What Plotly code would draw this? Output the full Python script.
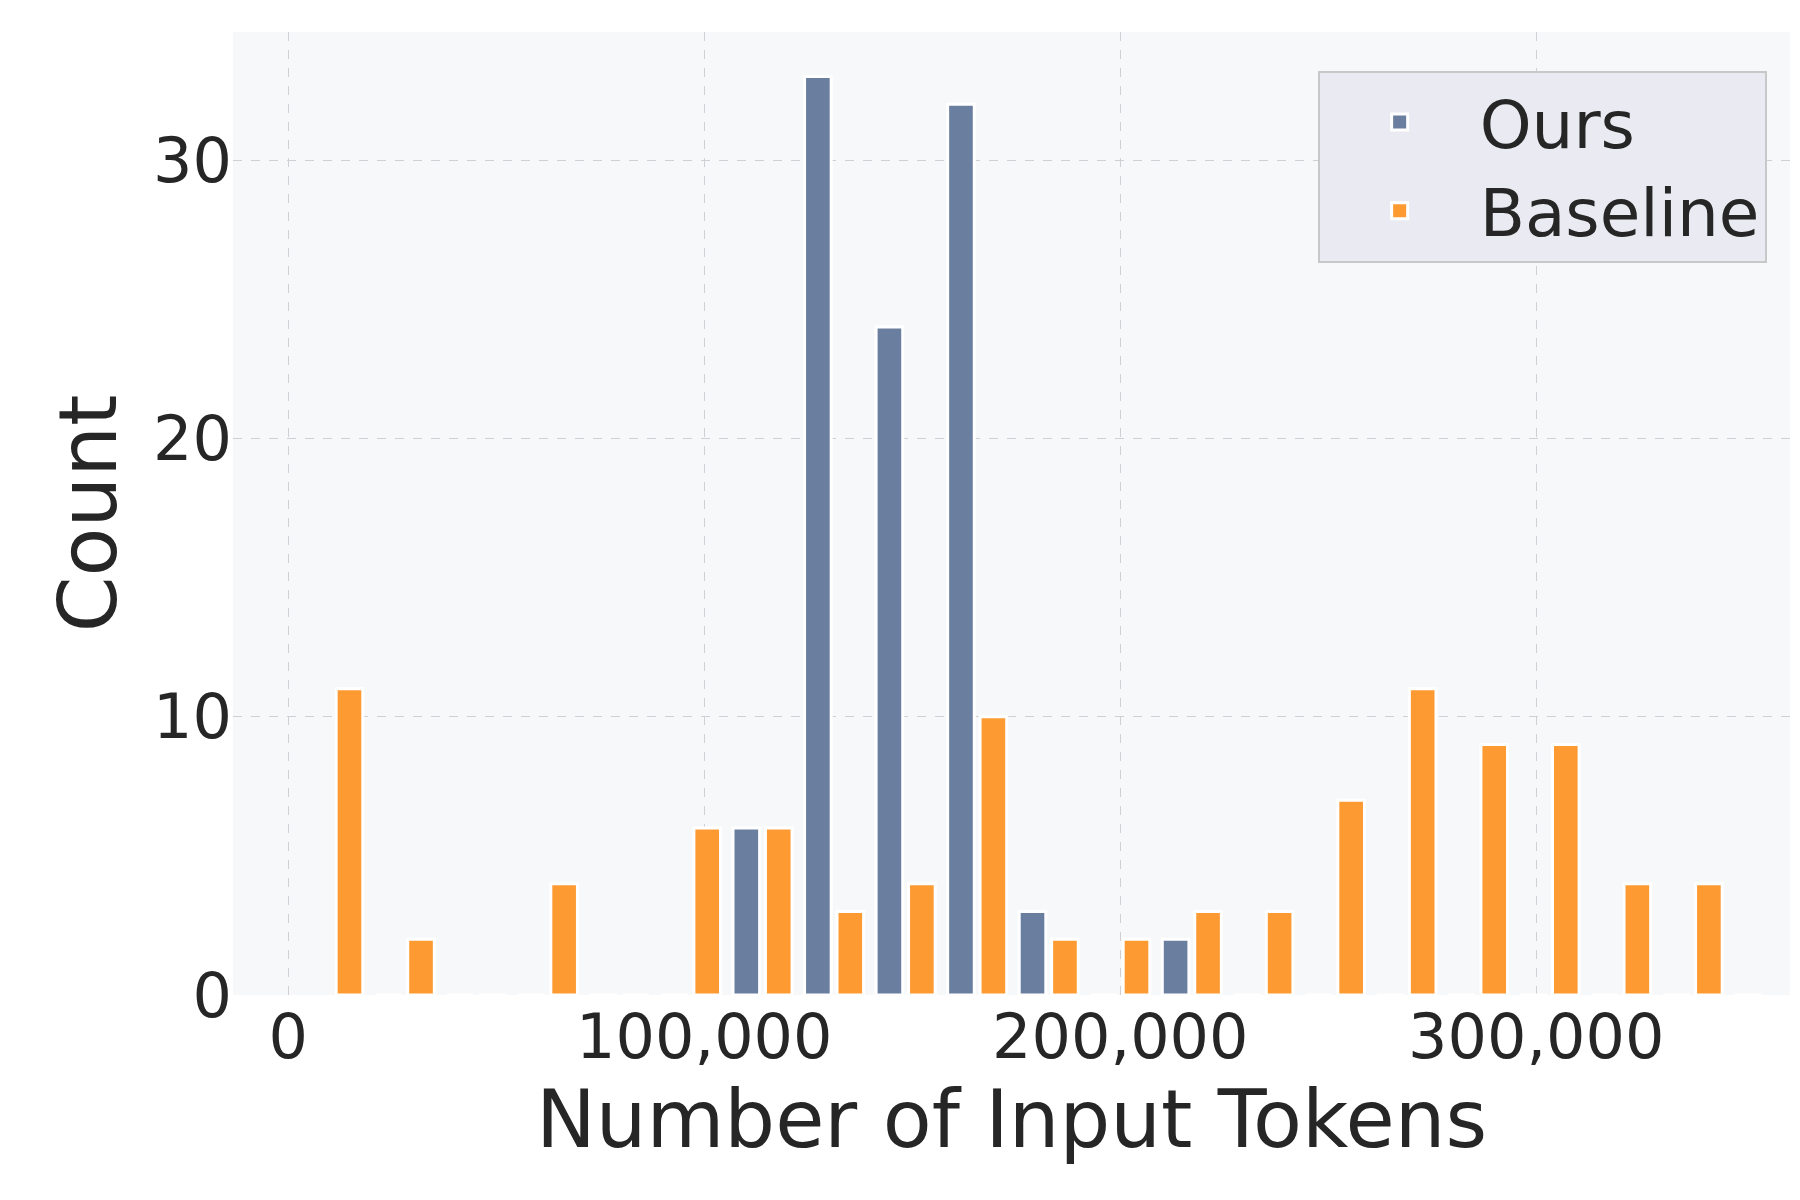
import plotly.graph_objects as go

# histogram bin centres (tokens) and counts
bin_centers = [19400, 36600, 53800, 71000, 88200, 105400, 122600, 139800, 157000, 174200,
               191400, 208600, 225800, 243000, 260200, 277400, 294600, 311800, 329000, 346200]
baseline_counts = [11, 2, 0, 4, 0, 6, 6, 3, 4, 10, 2, 2, 3, 3, 7, 11, 9, 9, 4, 4]
ours_counts = [0, 0, 0, 0, 0, 6, 33, 24, 32, 3, 0, 2, 0, 0, 0, 0, 0, 0, 0, 0]
series = ["Ours", "Baseline"]
colors = ["#6a7ea0", "#fd9a32"]

bar_w = 6400
fig = go.Figure()
fig.add_trace(go.Bar(x=bin_centers, y=ours_counts, name=series[0], width=bar_w, offset=1500,
                     showlegend=False,
                     marker=dict(color=colors[0], line=dict(color="white", width=3))))
fig.add_trace(go.Bar(x=bin_centers, y=baseline_counts, name=series[1], width=bar_w, offset=-7900,
                     showlegend=False,
                     marker=dict(color=colors[1], line=dict(color="white", width=3))))
# legend-only entries with larger patches
for name, c in zip(series, colors):
    fig.add_trace(go.Scatter(x=[None], y=[None], mode="markers", name=name,
                             marker=dict(symbol="square", size=50, color=c,
                                         line=dict(color="white", width=3))))

font = "DejaVu Sans"
fig.update_layout(
    width=1800, height=1200,
    paper_bgcolor="white", plot_bgcolor="#f7f8fa",
    margin=dict(l=225, r=18, t=24, b=213),
    font=dict(family=font, color="#262626", size=62),
    showlegend=True,
    legend=dict(x=0.985, y=0.96, xanchor="right", yanchor="top",
                bgcolor="#eaebf2", bordercolor="#c8c8c8", borderwidth=2,
                font=dict(size=66), itemwidth=150, tracegroupgap=20),
    xaxis=dict(range=[-13300, 361000], tickvals=[0, 100000, 200000, 300000],
               tickformat=",", showgrid=True, gridcolor="#d0d0d4", griddash="dash",
               gridwidth=1, zeroline=False, ticks="",
               title=dict(text="Number of Input Tokens", font=dict(size=80), standoff=10)),
    yaxis=dict(range=[0, 34.6], tickvals=[0, 10, 20, 30], showgrid=True,
               gridcolor="#d0d0d4", griddash="dash", gridwidth=1, zeroline=False, ticks="",
               title=dict(text="Count", font=dict(size=80), standoff=10)),
)
fig.write_html("out.html")
